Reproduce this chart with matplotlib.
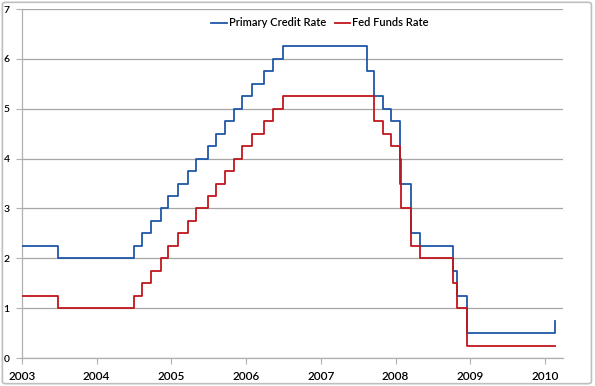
import matplotlib
matplotlib.use("Agg")
import matplotlib.pyplot as plt
from matplotlib.patches import FancyBboxPatch
import datetime as dt

# Change dates and levels (step-post)
ff_dates = ["2003-01-01", "2003-06-25", "2004-06-30", "2004-08-10", "2004-09-21",
            "2004-11-10", "2004-12-14", "2005-02-02", "2005-03-22", "2005-05-03",
            "2005-06-30", "2005-08-09", "2005-09-20", "2005-11-01", "2005-12-13",
            "2006-01-31", "2006-03-28", "2006-05-10", "2006-06-29", "2007-09-18",
            "2007-10-31", "2007-12-11", "2008-01-22", "2008-01-30", "2008-03-18",
            "2008-04-30", "2008-10-08", "2008-10-29", "2008-12-16", "2010-02-19"]
ff_values = [1.25, 1.00, 1.25, 1.50, 1.75, 2.00, 2.25, 2.50, 2.75, 3.00,
             3.25, 3.50, 3.75, 4.00, 4.25, 4.50, 4.75, 5.00, 5.25, 4.75,
             4.50, 4.25, 3.50, 3.00, 2.25, 2.00, 1.50, 1.00, 0.25, 0.25]

pc_dates = ["2003-01-01", "2003-06-25", "2004-06-30", "2004-08-10", "2004-09-21",
            "2004-11-10", "2004-12-14", "2005-02-02", "2005-03-22", "2005-05-03",
            "2005-06-30", "2005-08-09", "2005-09-20", "2005-11-01", "2005-12-13",
            "2006-01-31", "2006-03-28", "2006-05-10", "2006-06-29", "2007-08-17",
            "2007-09-18", "2007-10-31", "2007-12-11", "2008-01-22", "2008-01-30",
            "2008-03-18", "2008-04-30", "2008-10-08", "2008-10-29", "2008-12-16",
            "2010-02-19"]
pc_values = [2.25, 2.00, 2.25, 2.50, 2.75, 3.00, 3.25, 3.50, 3.75, 4.00,
             4.25, 4.50, 4.75, 5.00, 5.25, 5.50, 5.75, 6.00, 6.25, 5.75,
             5.25, 5.00, 4.75, 4.00, 3.50, 2.50, 2.25, 1.75, 1.25, 0.50,
             0.75]

years = [2003, 2004, 2005, 2006, 2007, 2008, 2009, 2010]
yticks = [0, 1, 2, 3, 4, 5, 6, 7]


def to_dec(s):
    d = dt.date.fromisoformat(s)
    start = dt.date(d.year, 1, 1)
    end = dt.date(d.year + 1, 1, 1)
    return d.year + (d - start).days / (end - start).days


pc_x = [to_dec(s) for s in pc_dates]
ff_x = [to_dec(s) for s in ff_dates]

plt.rcParams['font.family'] = ['Lato', 'DejaVu Sans']

fig = plt.figure(figsize=(5.95, 3.86), dpi=100)
fig.patches.append(FancyBboxPatch((0.004, 0.006), 0.99, 0.988,
                                  boxstyle="round,pad=0,rounding_size=0.006",
                                  transform=fig.transFigure, fill=False,
                                  edgecolor="#BFBFBF", linewidth=1.2))
ax = fig.add_axes([0.037, 0.0725, 0.909, 0.904])

blue = "#1F57A8"
red = "#C0161C"
ax.step(pc_x, pc_values, where="post", color=blue, linewidth=1.3,
        label="Primary Credit Rate", zorder=3)
ax.step(ff_x, ff_values, where="post", color=red, linewidth=1.3,
        label="Fed Funds Rate", zorder=3)

ax.set_xlim(2003, 2010.24)
ax.set_ylim(0, 7)
ax.set_xticks(years)
ax.set_xticklabels([str(y) for y in years])
ax.set_yticks(yticks)
ax.set_yticklabels([str(v) for v in yticks])

ax.grid(axis="y", color="#A6A6A6", linewidth=0.9)
ax.set_axisbelow(True)
for s in ["top", "right"]:
    ax.spines[s].set_visible(False)
for s in ["left", "bottom"]:
    ax.spines[s].set_color("#B0B0B0")
    ax.spines[s].set_linewidth(0.9)

ax.tick_params(axis="x", length=4, color="#B0B0B0", labelsize=8.5, pad=5,
               labelcolor="black")
ax.tick_params(axis="y", length=4, color="#B0B0B0", labelsize=7.5, pad=5,
               labelcolor="black")
for lab in ax.get_xticklabels() + ax.get_yticklabels():
    lab.set_fontweight("semibold")

leg = ax.legend(loc="upper center", bbox_to_anchor=(0.551, 0.995), ncol=2,
                frameon=False, fontsize=8, handlelength=1.4,
                handletextpad=0.15, columnspacing=0.8, borderaxespad=0.2)
for t in leg.get_texts():
    t.set_fontweight("semibold")

fig.savefig("out.png", dpi=100)
